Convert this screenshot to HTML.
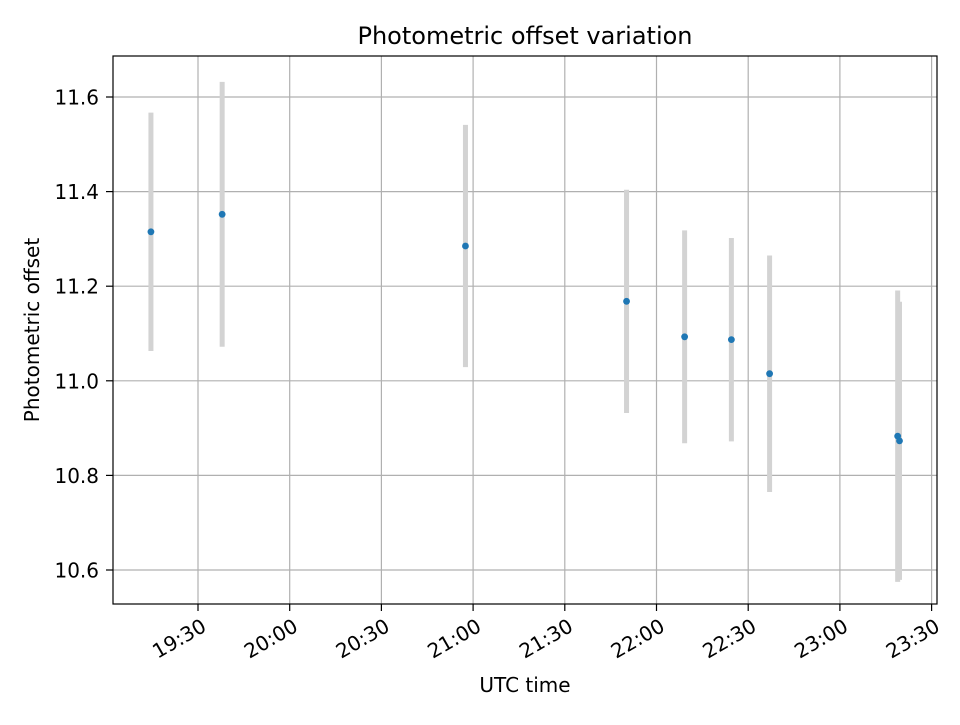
<!DOCTYPE html>
<html><head><meta charset="utf-8"><style>
body{margin:0;background:#fff;}
svg text{font-family:"DejaVu Sans","Liberation Sans",sans-serif;fill:#000;}
</style></head><body>
<svg id="chart" width="960" height="720" xmlns="http://www.w3.org/2000/svg">
<rect width="960" height="720" fill="#fff"/>
<text x="525" y="44" font-size="24" text-anchor="middle">Photometric offset variation</text>
<g id="grid"></g><g id="marks"></g><g id="axes"></g>
<rect x="113" y="56" width="824" height="548" fill="none" stroke="#000" stroke-width="1.2"/>
<text x="525" y="692" font-size="20" text-anchor="middle">UTC time</text>
<text transform="translate(39,330) rotate(-90)" font-size="20" text-anchor="middle">Photometric offset</text>
</svg>
<script>
const times=["19:14.6","19:37.9","20:57.5","21:50.2","22:09.2","22:24.5","22:37.0","23:18.9","23:19.5"];
const values=[11.315,11.352,11.285,11.168,11.093,11.087,11.015,10.883,10.873];
const errors=[0.252,0.28,0.256,0.236,0.225,0.215,0.25,0.308,0.294];
const xTicks=["19:30","20:00","20:30","21:00","21:30","22:00","22:30","23:00","23:30"];
const yTicks=[10.6,10.8,11.0,11.2,11.4,11.6];
const NS="http://www.w3.org/2000/svg";
function mins(t){const p=t.split(":");return +p[0]*60+parseFloat(p[1]);}
function xs(t){return 198+(mins(t)-mins("19:30"))*(91.7/30);}
function ys(v){return 570-(v-10.6)*473;}
function mk(tag,attrs,parent){const e=document.createElementNS(NS,tag);for(const k in attrs)e.setAttribute(k,attrs[k]);document.getElementById(parent).appendChild(e);return e;}
xTicks.forEach(t=>{const x=xs(t);
 const g=mk("line",{x1:x,x2:x,y1:56,y2:604,stroke:"#b0b0b0","stroke-width":1.2},"grid");
 
 
 mk("line",{x1:x,x2:x,y1:604,y2:611,stroke:"#000","stroke-width":1.2},"axes");
 const l=mk("text",{transform:`translate(${x+2},${617}) rotate(-30)`,"font-size":20,"text-anchor":"end",dy:"0.76em"},"axes");
 l.textContent=t;
 
 
});
yTicks.forEach(v=>{const y=ys(v);
 const g=mk("line",{x1:113,x2:937,y1:y,y2:y,stroke:"#b0b0b0","stroke-width":1.2},"grid");
 
 
 mk("line",{x1:106,x2:113,y1:y,y2:y,stroke:"#000","stroke-width":1.2},"axes");
 const l=mk("text",{x:99,y:y+7.5,"font-size":20,"text-anchor":"end"},"axes");
 l.textContent=v.toFixed(1);
 
 
});
times.forEach((t,i)=>{const x=xs(t);
 const e=mk("line",{x1:x,x2:x,y1:ys(values[i]+errors[i]),y2:ys(values[i]-errors[i]),stroke:"#d3d3d3","stroke-width":5},"marks");
 
 
});
times.forEach((t,i)=>{
 const c=mk("circle",{cx:xs(t),cy:ys(values[i]),r:3.4,fill:"#1f77b4"},"marks");
 
 
});
</script>
</body></html>
